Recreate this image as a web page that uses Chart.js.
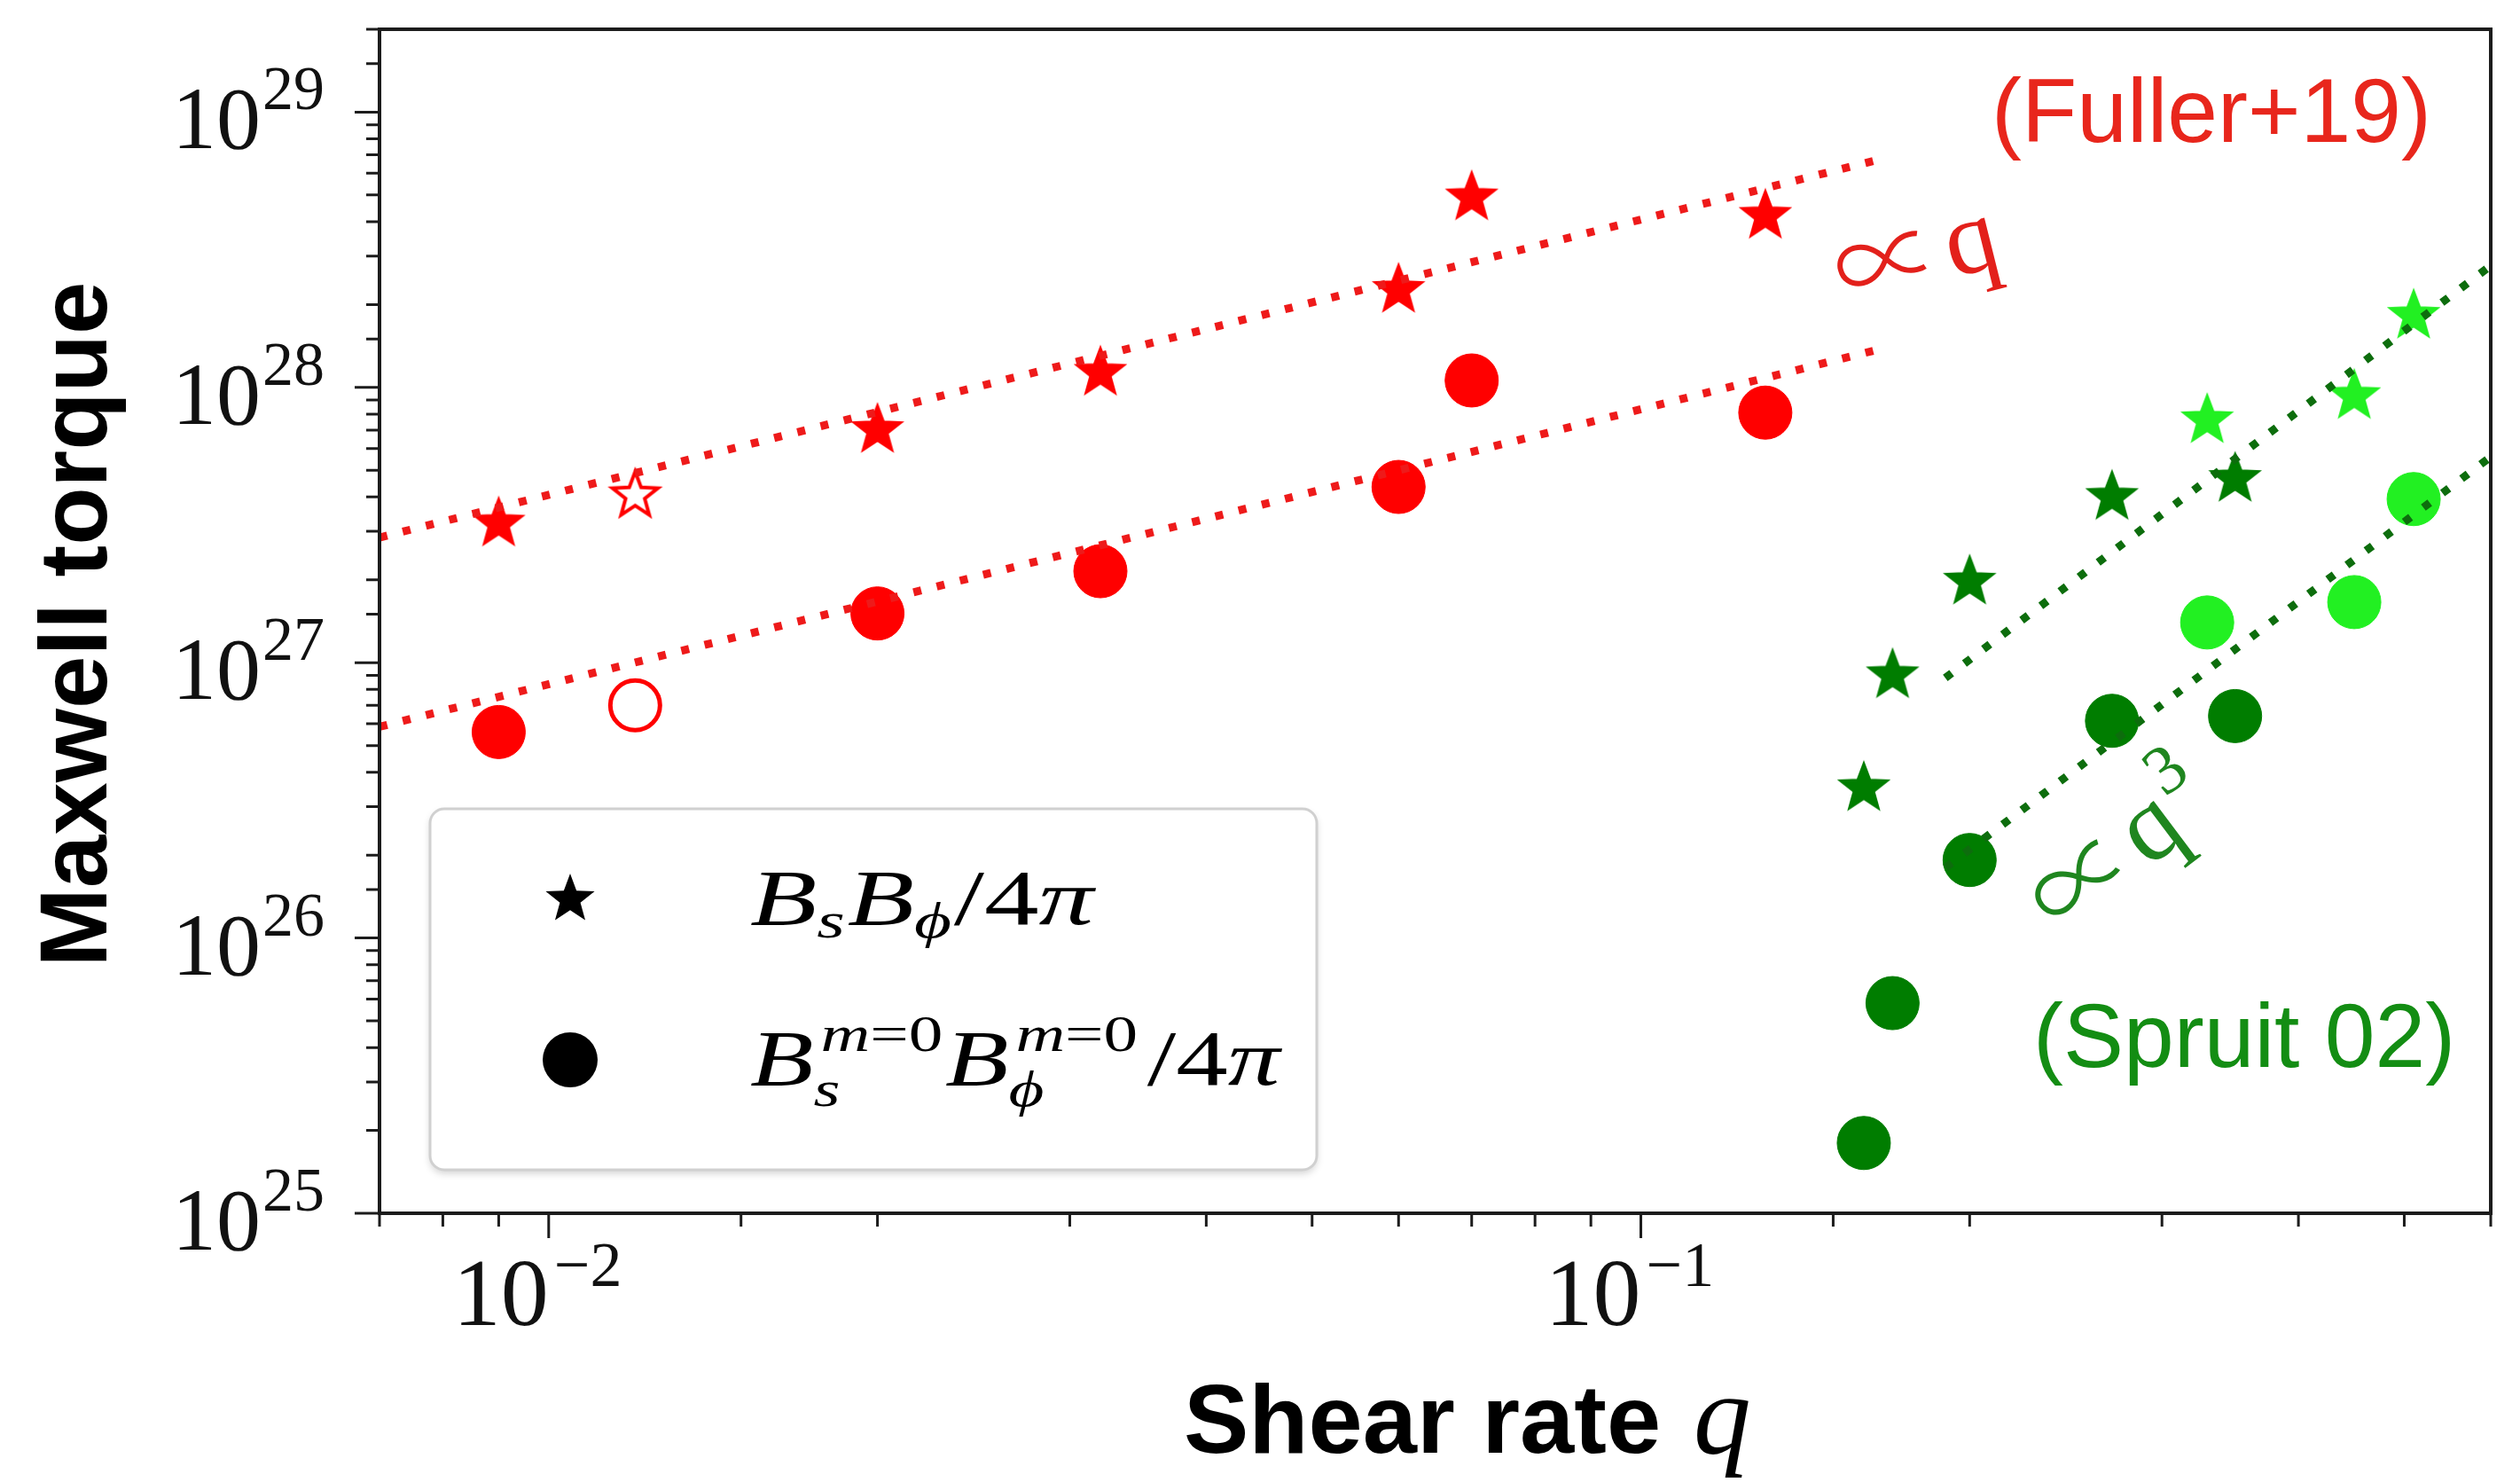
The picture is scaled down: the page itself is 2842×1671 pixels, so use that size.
<!DOCTYPE html>
<html>
<head>
<meta charset="utf-8">
<script src="https://cdn.jsdelivr.net/npm/chart.js"></script>
<style>
html, body { margin: 0; padding: 0; background: #fff; }
#wrap { width: 2842px; height: 1671px; position: relative; }
</style>
</head>
<body>
<div id="wrap"><canvas id="torqueChart"></canvas></div>
<script>
// Fuller+19 runs: shear rate and the two torque estimates (filled markers)
const qFuller = [0.009, 0.02, 0.032, 0.06, 0.07, 0.13];
const starFuller = [3.2e27, 7.0e27, 1.13e28, 2.26e28, 4.9e28, 4.2e28];
const circFuller = [5.6e26, 1.51e27, 2.15e27, 4.35e27, 1.06e28, 8.1e27];
// the one open-marker run
const qFullerOpen = [0.012];
const starFullerOpen = [4.05e27];
const circFullerOpen = [7.0e26];

// Spruit 02 runs, dark and light green
const qSpruitDark = [0.16, 0.17, 0.2, 0.27, 0.35];
const starSpruitDark = [3.5e26, 9.0e26, 1.97e27, 4.0e27, 4.65e27];
const circSpruitDark = [1.8e25, 5.8e25, 1.92e26, 6.15e26, 6.4e26];
const qSpruitLight = [0.33, 0.45, 0.51];
const starSpruitLight = [7.6e27, 9.3e27, 1.82e28];
const circSpruitLight = [1.4e27, 1.66e27, 3.93e27];

// power-law guides, end points only
const fitQ1 = [0.007, 0.167];
const fitStarQ1 = [2.85e27, 6.8e28];
const fitCircQ1 = [5.85e26, 1.39e28];
const fitQ3 = [0.19, 0.6];
const fitStarQ3 = [8.8e26, 2.77e28];
const fitCircQ3 = [1.8e26, 5.6e27];

// decade labels
const xTickExp = [-2, -1];
const yTickExp = [25, 26, 27, 28, 29];

const RED = '#ff0000';
const DARK = '#007d00';
const LIGHT = '#22f022';
const SERIF = '"Liberation Serif","DejaVu Serif",serif';
const SANS = '"Liberation Sans",Arial,sans-serif';

const pts = (xs, ys) => xs.map((x, i) => ({ x: x, y: ys[i] }));

function starPath(g, R) {
  const r = R * 0.42;
  g.beginPath();
  for (let i = 0; i < 10; i++) {
    const rad = i % 2 ? r : R;
    const ang = -Math.PI / 2 + i * Math.PI / 5;
    const px = rad * Math.cos(ang), py = rad * Math.sin(ang);
    if (i) g.lineTo(px, py); else g.moveTo(px, py);
  }
  g.closePath();
}

function starImage(R, fill, stroke, lw) {
  const pad = Math.ceil(lw) + 2;
  const c = document.createElement('canvas');
  c.width = c.height = 2 * (R + pad);
  const g = c.getContext('2d');
  g.translate(R + pad, R + pad);
  starPath(g, R);
  g.fillStyle = fill;
  g.fill();
  g.lineWidth = lw;
  g.strokeStyle = stroke;
  g.lineJoin = 'miter';
  g.stroke();
  return c;
}

const starRed = starImage(29, RED, RED, 2);
const starOpen = starImage(27, '#fff', RED, 4);
const starDark = starImage(29, DARK, DARK, 2);
const starLight = starImage(29, LIGHT, LIGHT, 2);

function guide(xs, ys, color) {
  return {
    data: pts(xs, ys), showLine: true, pointRadius: 0,
    borderColor: color, borderWidth: 9, borderDash: [9, 18], borderCapStyle: 'butt'
  };
}
function stars(xs, ys, img) {
  return { data: pts(xs, ys), pointStyle: img, pointRadius: 30, showLine: false };
}
function dots(xs, ys, color) {
  return { data: pts(xs, ys), pointStyle: 'circle', pointRadius: 30, backgroundColor: color, borderColor: color, borderWidth: 1, showLine: false };
}

// guides first so they end up on top of the markers
const datasets = [
  guide(fitQ1, fitStarQ1, '#ee1a1a'),
  guide(fitQ1, fitCircQ1, '#ee1a1a'),
  guide(fitQ3, fitStarQ3, '#0d6d0d'),
  guide(fitQ3, fitCircQ3, '#0d6d0d'),
  stars(qFuller, starFuller, starRed),
  stars(qFullerOpen, starFullerOpen, starOpen),
  dots(qFuller, circFuller, RED),
  { data: pts(qFullerOpen, circFullerOpen), pointStyle: 'circle', pointRadius: 28, backgroundColor: '#fff', borderColor: RED, borderWidth: 5 },
  stars(qSpruitDark, starSpruitDark, starDark),
  stars(qSpruitLight, starSpruitLight, starLight),
  dots(qSpruitDark, circSpruitDark, DARK),
  dots(qSpruitLight, circSpruitLight, LIGHT)
];

// text runs with sub/superscripts
function drawMath(ctx, x, base, items) {
  let cx = x;
  items.forEach(it => {
    if (it.script) {
      let w = 0;
      if (it.sup) {
        let sx = cx + (it.supDx || 0);
        it.sup.forEach(([t, f]) => { ctx.font = f; ctx.fillText(t, sx, base + it.supDy); sx += ctx.measureText(t).width; });
        w = Math.max(w, sx - cx);
      }
      if (it.sub) {
        let sx = cx;
        it.sub.forEach(([t, f]) => { ctx.font = f; ctx.fillText(t, sx, base + it.subDy); sx += ctx.measureText(t).width; });
        w = Math.max(w, sx - cx);
      }
      cx += w + 2;
    } else {
      ctx.font = it.f;
      cx += it.dx || 0;
      ctx.fillText(it.t, cx, base);
      cx += ctx.measureText(it.t).width;
    }
  });
  return cx;
}

const it = s => 'italic ' + s + 'px ' + SERIF;
const rm = s => s + 'px ' + SERIF;

const legendRows = [
  { marker: 'star', stretch: 1.4, items: [
    { t: 'B', f: it(88) }, { script: 1, sub: [['s', it(58)]], subDy: 15 },
    { t: 'B', f: it(88) }, { script: 1, sub: [['\u03d5', it(58)]], subDy: 15 },
    { t: '/', f: rm(88) }, { t: '4', f: rm(88) }, { t: '\u03c0', f: it(88) }
  ] },
  { marker: 'circle', stretch: 1.33, items: [
    { t: 'B', f: it(88) },
    { script: 1, sup: [['m', it(58)], ['=0', rm(58)]], supDy: -38, supDx: 6, sub: [['s', it(58)]], subDy: 24 },
    { t: 'B', f: it(88) },
    { script: 1, sup: [['m', it(58)], ['=0', rm(58)]], supDy: -38, supDx: 6, sub: [['\u03d5', it(58)]], subDy: 24 },
    { t: '/', f: rm(88), dx: 6 }, { t: '4', f: rm(88) }, { t: '\u03c0', f: it(88) }
  ] }
];

// "∝ q^n" drawn along a tilted baseline
function slopeLabel(ctx, px, py, deg, color, power) {
  ctx.save();
  ctx.fillStyle = color;
  ctx.translate(px, py);
  ctx.rotate(-deg * Math.PI / 180);
  ctx.font = '300 120px "Noto Sans CJK JP","DejaVu Serif",serif';
  ctx.fillText('\u221d', 0, 6);
  let w = ctx.measureText('\u221d').width + 8;
  ctx.font = rm(118);
  ctx.fillText('q', w, 0);
  if (power) {
    w += ctx.measureText('q').width + 4;
    ctx.font = rm(78);
    ctx.fillText(power, w, -52);
  }
  ctx.restore();
}

const decor = {
  id: 'decor',
  afterDraw(chart) {
    const { ctx, chartArea: a, scales: { x, y } } = chart;
    ctx.save();

    // tick marks, outward on left and bottom
    const isMajor = v => Math.abs(Math.log10(v) - Math.round(Math.log10(v))) < 1e-6;
    ctx.strokeStyle = '#1c1c1c';
    ctx.lineWidth = 3;
    ctx.beginPath();
    y.ticks.forEach(t => {
      const py = y.getPixelForValue(t.value);
      if (py < a.top - 1 || py > a.bottom + 1) return;
      const len = isMajor(t.value) ? 28 : 15;
      ctx.moveTo(a.left - len, py); ctx.lineTo(a.left, py);
    });
    x.ticks.forEach(t => {
      const px = x.getPixelForValue(t.value);
      if (px < a.left - 1 || px > a.right + 1) return;
      const len = isMajor(t.value) ? 28 : 15;
      ctx.moveTo(px, a.bottom); ctx.lineTo(px, a.bottom + len);
    });
    ctx.stroke();

    // frame
    ctx.lineWidth = 4;
    ctx.strokeRect(a.left, a.top, a.right - a.left, a.bottom - a.top);

    // decade labels
    ctx.fillStyle = '#111';
    ctx.textBaseline = 'alphabetic';
    yTickExp.forEach(e => {
      const py = y.getPixelForValue(Math.pow(10, e));
      ctx.font = rm(70);
      ctx.textAlign = 'right';
      const ew = ctx.measureText(String(e)).width;
      ctx.fillText(String(e), a.left - 62, py - 3);
      ctx.font = rm(100);
      ctx.fillText('10', a.left - 64 - ew, py + 41);
    });
    xTickExp.forEach(e => {
      const px = x.getPixelForValue(Math.pow(10, e));
      ctx.font = rm(108);
      ctx.textAlign = 'right';
      ctx.fillText('10', px, a.bottom + 126);
      ctx.font = rm(72);
      ctx.textAlign = 'left';
      ctx.fillText('\u2212' + Math.abs(e), px + 6, a.bottom + 82);
    });

    // axis titles
    ctx.fillStyle = '#000';
    ctx.save();
    ctx.translate(120, 704);
    ctx.rotate(-Math.PI / 2);
    ctx.textAlign = 'center';
    ctx.font = 'bold 107px ' + SANS;
    ctx.fillText('Maxwell torque', 0, 0);
    ctx.restore();
    ctx.textAlign = 'left';
    ctx.font = 'bold 110px ' + SANS;
    ctx.fillText('Shear rate', 1335, 1638);
    const tw = ctx.measureText('Shear rate ').width;
    ctx.font = it(130);
    ctx.fillText('q', 1335 + tw + 6, 1638);

    // source labels
    ctx.font = '102px ' + SANS;
    ctx.fillStyle = '#e8261c';
    ctx.fillText('(Fuller+19)', 2246, 160);
    ctx.fillStyle = '#138d13';
    ctx.fillText('(Spruit 02)', 2293, 1203);

    // slope labels
    slopeLabel(ctx, 2078, 344, 14, '#e3201b', '');
    slopeLabel(ctx, 2320, 1056, 37, '#1f861f', '3');

    // legend
    const lx = a.left + 57, ly = a.top + 879, lw = 1000, lh = 407;
    ctx.save();
    ctx.shadowColor = 'rgba(0,0,0,0.18)';
    ctx.shadowBlur = 8;
    ctx.shadowOffsetY = 4;
    ctx.beginPath();
    ctx.roundRect(lx, ly, lw, lh, 16);
    ctx.fillStyle = '#fff';
    ctx.fill();
    ctx.restore();
    ctx.beginPath();
    ctx.roundRect(lx, ly, lw, lh, 16);
    ctx.strokeStyle = '#d0d0d0';
    ctx.lineWidth = 3;
    ctx.stroke();

    legendRows.forEach((row, i) => {
      const my = ly + 102 + i * 181;
      ctx.fillStyle = '#000';
      ctx.save();
      ctx.translate(lx + 158, my);
      if (row.marker === 'star') { starPath(ctx, 29); ctx.fill(); }
      else { ctx.beginPath(); ctx.arc(0, 0, 31, 0, Math.PI * 2); ctx.fill(); }
      ctx.restore();
      ctx.save();
      ctx.translate(lx + 361, 0);
      ctx.scale(row.stretch, 1);
      ctx.textAlign = 'left';
      drawMath(ctx, 0, my + 28, row.items);
      ctx.restore();
    });

    ctx.restore();
  }
};

new Chart(document.getElementById('torqueChart'), {
  type: 'scatter',
  data: { datasets: datasets },
  options: {
    responsive: true,
    maintainAspectRatio: false,
    animation: false,
    events: [],
    layout: { padding: { top: 22, right: 22, left: 0, bottom: 0 } },
    plugins: { legend: { display: false }, tooltip: { enabled: false } },
    scales: {
      x: {
        type: 'logarithmic', min: 0.007, max: 0.6,
        grid: { display: false }, border: { display: false }, ticks: { display: false },
        afterFit(s) { s.height = 303; }
      },
      y: {
        type: 'logarithmic', min: 1e25, max: 2e29,
        grid: { display: false }, border: { display: false }, ticks: { display: false },
        afterFit(s) { s.width = 428; }
      }
    }
  },
  plugins: [decor]
});
</script>
</body>
</html>
